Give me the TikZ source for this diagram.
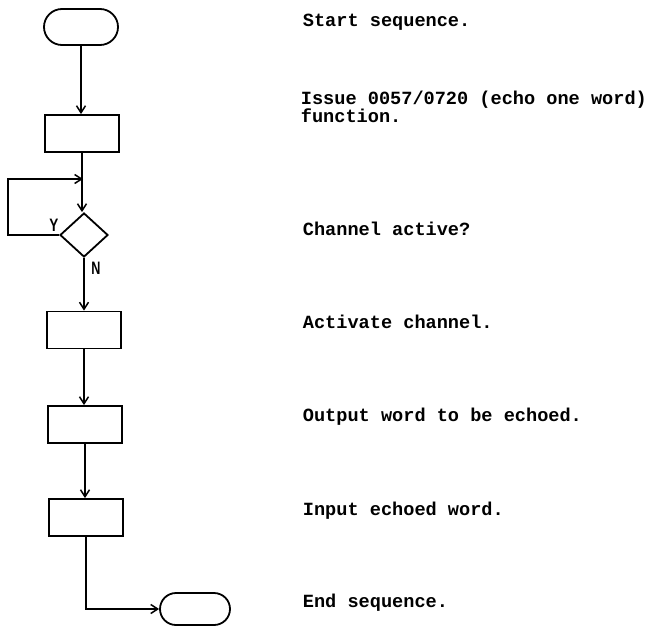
\documentclass[tikz,border=0pt]{standalone}
\usepackage{fontspec}
\usepackage{graphicx}
\setmainfont{Liberation Serif}
\newfontfamily\descfont{Liberation Mono}
\newfontfamily\lblfont{Liberation Sans}
\usetikzlibrary{shapes.misc,shapes.geometric,arrows.meta}
\begin{document}
\begin{tikzpicture}[x=1pt,y=-1pt,
  line width=1.8pt,
  flow/.style={-{Straight Barb[length=7pt,width=9pt,line width=1.5pt]}},
  term/.style={draw,rounded rectangle,minimum width=74pt,minimum height=36pt,inner sep=0pt},
  procbox/.style={draw,rectangle,minimum width=74pt,minimum height=37pt,inner sep=0pt},
  decide/.style={draw,diamond,minimum width=48pt,minimum height=44pt,inner sep=0pt},
  desc/.style={anchor=base west,inner sep=0pt,font=\descfont\bfseries\fontsize{18.6}{18}\selectfont,align=left},
  yn/.style={inner sep=0pt,font=\lblfont\bfseries\fontsize{18}{18}\selectfont}]
\useasboundingbox (0,0) rectangle (652,626);
% shapes
\node[term] (start) at (81,27) {};
\node[procbox] (b1) at (82,133.5) {};
\node[decide] (d) at (84,235) {};
\node[procbox] (b2) at (84,330) {};
\node[procbox] (b3) at (85,424.5) {};
\node[procbox] (b4) at (86,517.5) {};
\node[term,minimum width=70pt,minimum height=32pt] (end) at (195,609) {};
\coordinate (j) at (83,179);
\coordinate (loopL) at (8,179);
% connectors
\draw[flow] (start.south) -- (start.south |- b1.north);
\draw[flow] (b1.south) -- (b1.south |- d.north);
\draw[flow] (d.west) -| (loopL) -- (j);
\draw[flow] (d.south) -- (d.south |- b2.north);
\draw[flow] (b2.south) -- (b2.south |- b3.north);
\draw[flow] (b3.south) -- (b3.south |- b4.north);
\draw[flow] (b4.south) |- (end.west);
% branch labels
\node[yn] (ylab) at (54,225) {\scalebox{0.75}[1]{Y}};
\node[yn] (nlab) at (96,268.5) {\scalebox{0.7}[1]{N}};
% descriptions
\node[desc] (t1) at (302,27) {Start sequence.};
\node[desc] (t2) at (300,122) {Issue 0057/0720 (echo one word)\\function.};
\node[desc] (t3) at (302,235) {Channel active?};
\node[desc] (t4) at (302,328) {Activate channel.};
\node[desc] (t5) at (302,421) {Output word to be echoed.};
\node[desc] (t6) at (302,515) {Input echoed word.};
\node[desc] (t7) at (302,607) {End sequence.};
\end{tikzpicture}
\end{document}
